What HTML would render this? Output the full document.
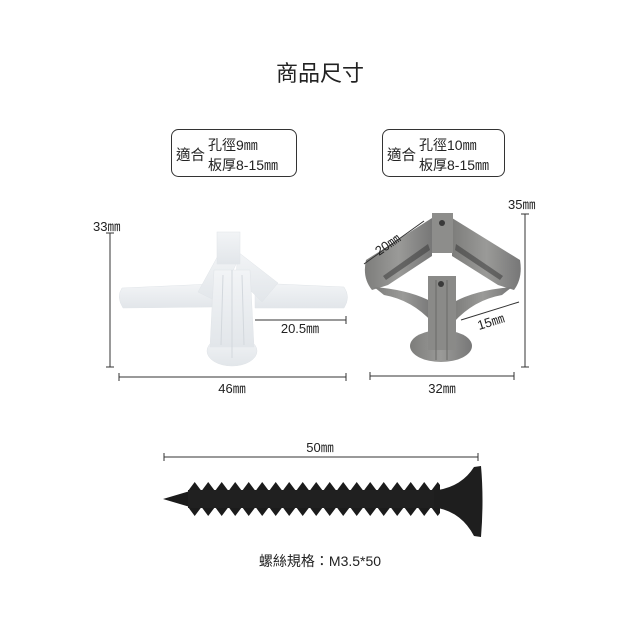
<!DOCTYPE html>
<html><head><meta charset="utf-8"><style>
html,body{margin:0;padding:0;background:#fff;}
svg{display:block;}
text{font-family:"Liberation Sans","Noto Sans CJK TC",sans-serif;fill:#222;}
</style></head><body>
<svg width="640" height="640" viewBox="0 0 640 640" xmlns="http://www.w3.org/2000/svg">
<defs>
<pattern id="th" x="188" y="482" width="13.5" height="36" patternUnits="userSpaceOnUse">
<polygon points="0,9 6.7,0 13.5,9" fill="#1b1b1b"/>
<polygon points="0,25 6.7,34 13.5,25" fill="#1b1b1b"/>
<rect x="0" y="8" width="13.5" height="18" fill="#202020"/>
</pattern>
<linearGradient id="wg" x1="0" y1="0" x2="0" y2="1"><stop offset="0" stop-color="#f2f4f6"/><stop offset="1" stop-color="#e2e6ea"/></linearGradient>
<linearGradient id="gg" x1="0" y1="0" x2="1" y2="0"><stop offset="0" stop-color="#7d7d7b"/><stop offset="0.5" stop-color="#9a9a98"/><stop offset="1" stop-color="#777"/></linearGradient>
</defs>
<text x="320" y="81" font-size="22" text-anchor="middle">商品尺寸</text>

<rect x="171.5" y="129.5" width="125" height="47" rx="7" fill="#fff" stroke="#333" stroke-width="1"/>
<text x="176" y="160" font-size="14.5">適合</text>
<text x="208" y="150" font-size="14">孔徑9㎜</text>
<text x="208" y="170" font-size="14">板厚8-15㎜</text>

<rect x="382.5" y="129.5" width="122" height="47" rx="7" fill="#fff" stroke="#333" stroke-width="1"/>
<text x="387" y="160" font-size="14.5">適合</text>
<text x="419" y="150" font-size="14">孔徑10㎜</text>
<text x="419" y="170" font-size="14">板厚8-15㎜</text>

<!-- white anchor -->
<g fill="url(#wg)" stroke="#e0e4e8" stroke-width="0.5">
<path d="M122,288 Q116,297 123,308 L212,307 L212,284 Z"/>
<path d="M344,287 Q351,297 344,308 L255,308 L255,283 Z"/>
<path d="M198,292 L220,252 L240,256 L218,302 Z"/>
<path d="M238,252 L278,283 L262,302 L236,276 Z"/>
<rect x="217" y="232" width="23" height="32"/>
<ellipse cx="232" cy="351" rx="25" ry="15"/>
<path d="M214,270 L250,270 L254,347 L210,347 Z"/>
</g>
<g stroke="#d3d8dd" stroke-width="1"><line x1="232" y1="270" x2="232" y2="358"/><line x1="223" y1="275" x2="221" y2="345"/><line x1="242" y1="275" x2="244" y2="345"/></g>

<!-- gray anchor -->
<g fill="url(#gg)">
<path d="M432,218 L366,260 Q362,278 372,290 L388,285 L432,256 Z"/>
<path d="M452,218 L520,260 Q523,278 514,290 L498,285 L452,256 Z"/>
<rect x="432" y="213" width="21" height="40" fill="#8d8d8b"/>
<path d="M374,287 Q410,290 432,302 L432,322 Q412,300 384,295 Z"/>
<path d="M512,287 Q476,290 454,302 L454,322 Q474,300 502,295 Z"/>
<ellipse cx="441" cy="346" rx="31" ry="16"/>
<rect x="428" y="276" width="28" height="74" fill="#8a8a88"/>
</g>
<g fill="#3a3a3a"><circle cx="442" cy="223" r="3"/><circle cx="441" cy="284" r="3"/>
<path d="M383,276 L428,244 L430,250 L386,280 Z" opacity="0.55"/>
<path d="M503,276 L456,244 L455,250 L500,280 Z" opacity="0.55"/></g>
<g stroke="#6a6a68" stroke-width="1"><line x1="436" y1="280" x2="436" y2="360"/><line x1="447" y1="280" x2="447" y2="360"/></g>

<!-- dimension lines -->
<g stroke="#333" stroke-width="1" fill="none">
<line x1="110" y1="233" x2="110" y2="367"/><line x1="106" y1="233" x2="114" y2="233"/><line x1="106" y1="367" x2="114" y2="367"/>
<line x1="119" y1="377" x2="346" y2="377"/><line x1="119" y1="373" x2="119" y2="381"/><line x1="346" y1="373" x2="346" y2="381"/>
<line x1="255" y1="320" x2="346" y2="320"/><line x1="346" y1="316" x2="346" y2="324"/>
<line x1="525" y1="214" x2="525" y2="367"/><line x1="521" y1="214" x2="529" y2="214"/><line x1="521" y1="367" x2="529" y2="367"/>
<line x1="370" y1="376" x2="514" y2="376"/><line x1="370" y1="372" x2="370" y2="380"/><line x1="514" y1="372" x2="514" y2="380"/>
<line x1="364" y1="264" x2="424" y2="221"/>
<line x1="461" y1="320" x2="519" y2="302"/>
<line x1="164" y1="457" x2="478" y2="457"/><line x1="164" y1="453" x2="164" y2="461"/><line x1="478" y1="453" x2="478" y2="461"/>
</g>
<text x="93" y="231" font-size="13">33㎜</text>
<text x="232" y="393" font-size="13" text-anchor="middle">46㎜</text>
<text x="300" y="333" font-size="13" text-anchor="middle">20.5㎜</text>
<text x="508" y="209" font-size="13">35㎜</text>
<text x="442" y="393" font-size="13" text-anchor="middle">32㎜</text>
<text x="0" y="0" font-size="13" transform="translate(379,256) rotate(-35)">20㎜</text>
<text x="0" y="0" font-size="13" transform="translate(479,330) rotate(-17)">15㎜</text>
<text x="320" y="452" font-size="13" text-anchor="middle">50㎜</text>

<!-- screw -->
<polygon points="163,499 190,491 190,507" fill="#1b1b1b"/>
<rect x="188" y="482" width="252" height="36" fill="url(#th)"/>
<path d="M438,490 Q462,486 474,467 L481,466 Q484,500 481,537 L474,536 Q462,513 438,508 Z" fill="#1e1e1e"/>
<rect x="434" y="490" width="10" height="18" fill="#1e1e1e"/>

<text x="320" y="566" font-size="14" text-anchor="middle">螺絲規格：M3.5*50</text>
</svg>
</body></html>
